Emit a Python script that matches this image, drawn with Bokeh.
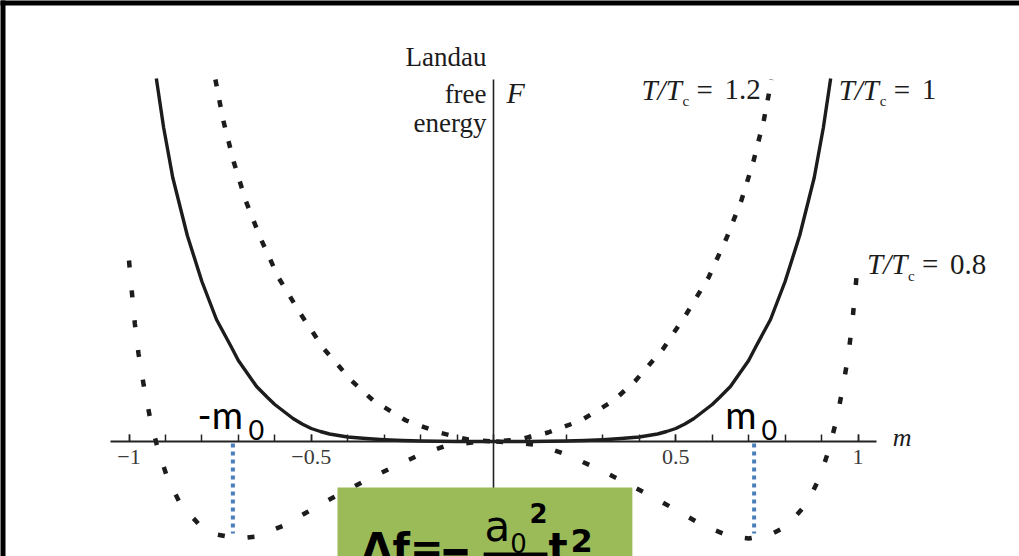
from bokeh.plotting import figure
from bokeh.models import FixedTicker, Label, BoxAnnotation, Range1d
from bokeh.embed import file_html
from bokeh.resources import INLINE

# Landau free energy F(m) (arbitrary units) for three reduced temperatures
m_t10 = [-0.925, -0.905, -0.88, -0.84, -0.80, -0.76, -0.72, -0.70, -0.65, -0.62, -0.60,
         -0.575, -0.55, -0.525, -0.50, -0.475, -0.45, -0.40, -0.35, -0.30, -0.25, -0.20,
         -0.10, 0.0,
         0.10, 0.20, 0.25, 0.30, 0.35, 0.40, 0.45, 0.475, 0.50, 0.525, 0.55, 0.575,
         0.60, 0.62, 0.65, 0.70, 0.72, 0.76, 0.80, 0.84, 0.88, 0.905, 0.925]
F_t10 = [3.63, 3.14, 2.64, 2.06, 1.60, 1.22, 0.95, 0.81, 0.55, 0.44, 0.37,
         0.30, 0.23, 0.175, 0.13, 0.10, 0.075, 0.045, 0.03, 0.018, 0.01, 0.005,
         0.0, 0.0,
         0.0, 0.005, 0.01, 0.018, 0.03, 0.045, 0.075, 0.10, 0.13, 0.175, 0.23, 0.30,
         0.37, 0.44, 0.55, 0.81, 0.95, 1.22, 1.60, 2.06, 2.64, 3.14, 3.63]

m_t12 = [-0.763, -0.742, -0.713, -0.68, -0.64, -0.59, -0.53, -0.466, -0.39, -0.33,
         -0.24, -0.15, -0.07, 0.0,
         0.07, 0.15, 0.24, 0.33, 0.39, 0.466, 0.53, 0.59, 0.64, 0.68, 0.713, 0.742, 0.763]
F_t12 = [3.62, 3.22, 2.80, 2.41, 2.04, 1.64, 1.28, 0.93, 0.61, 0.41,
         0.21, 0.09, 0.02, 0.0,
         0.02, 0.09, 0.21, 0.41, 0.61, 0.93, 1.28, 1.64, 2.04, 2.41, 2.80, 3.22, 3.62]

m_t08 = [-1.0, -0.992, -0.984, -0.974, -0.96, -0.943, -0.922, -0.896, -0.86, -0.803,
         -0.76, -0.70, -0.65, -0.575, -0.513, -0.44, -0.362, -0.284, -0.207, -0.129,
         -0.06, 0.0,
         0.06, 0.129, 0.207, 0.284, 0.362, 0.44, 0.513, 0.575, 0.65, 0.70, 0.76,
         0.803, 0.86, 0.896, 0.922, 0.943, 0.96, 0.974, 0.984, 0.992, 1.0]
F_t08 = [1.81, 1.49, 1.18, 0.88, 0.57, 0.25, -0.06, -0.35, -0.62, -0.85,
         -0.93, -0.97, -0.95, -0.84, -0.71, -0.56, -0.41, -0.27, -0.14, -0.04,
         -0.01, 0.0,
         -0.01, -0.04, -0.14, -0.27, -0.41, -0.56, -0.71, -0.84, -0.95, -0.97, -0.93,
         -0.85, -0.62, -0.35, -0.06, 0.25, 0.57, 0.88, 1.18, 1.49, 1.81]

# equilibrium magnetisation +/- m0 of the T/Tc = 0.8 curve
m0_x = [-0.715, 0.715]
m0_top = [-0.02, -0.02]
m0_bottom = [-0.92, -0.92]

# axis ticks
major_ticks = [-1.0, -0.5, 0.5, 1.0]
major_labels = ["\u22121", "\u22120.5", "0.5", "1"]
minor_ticks = [-1.0, -0.9, -0.8, -0.7, -0.6, -0.5, -0.4, -0.3, -0.2, -0.1, 0.0,
               0.1, 0.2, 0.3, 0.4, 0.5, 0.6, 0.7, 0.8, 0.9, 1.0]

# curve labels: T/Tc value and anchor (m, F)
temp_values = ["1.2", "1", "0.8"]
temp_label_m = [0.406, 0.947, 1.025]
temp_label_F = [3.405, 3.405, 1.66]

SERIF = "Liberation Serif"
INK = "#1c1c1c"

X0, X1 = -1.35254, 1.44307
Y0, Y1 = -1.15, 4.41

p = figure(width=1019, height=556, output_backend="svg", toolbar_location=None,
           x_range=Range1d(X0, X1), y_range=Range1d(Y0, Y1),
           min_border=0, min_border_left=0, min_border_top=0,
           min_border_right=0, min_border_bottom=0,
           border_fill_color="white", background_fill_color="white",
           outline_line_color=None)
p.grid.visible = False

# horizontal m axis through F = 0
xa = p.xaxis[0]
xa.fixed_location = 0
xa.bounds = (-1.05, 1.05)
xa.ticker = FixedTicker(ticks=major_ticks, minor_ticks=minor_ticks)
xa.major_label_overrides = {t: s for t, s in zip(major_ticks, major_labels)}
xa.axis_line_color = "#222222"
xa.axis_line_width = 2
xa.major_tick_in = 7
xa.major_tick_out = 0
xa.minor_tick_in = 7
xa.minor_tick_out = 0
xa.major_tick_line_color = "#222222"
xa.minor_tick_line_color = "#222222"
xa.major_tick_line_width = 1.5
xa.minor_tick_line_width = 1.5
xa.major_label_standoff = 8
xa.major_label_text_font = SERIF
xa.major_label_text_font_size = "22px"
xa.major_label_text_color = "#3a3a3a"

# vertical F axis through m = 0
ya = p.yaxis[0]
ya.fixed_location = 0
ya.bounds = (-1.15, 3.62)
ya.ticker = FixedTicker(ticks=[])
ya.major_tick_in = 0
ya.major_tick_out = 0
ya.minor_tick_in = 0
ya.minor_tick_out = 0
ya.major_label_text_font_size = "0px"
ya.axis_line_color = "#222222"
ya.axis_line_width = 1.6

# free energy curves
p.line(m_t08, F_t08, line_color=INK, line_width=4.5, line_dash="7 23")
p.line(m_t12, F_t12, line_color=INK, line_width=4.5, line_dash="7 14")
p.line(m_t10, F_t10, line_color=INK, line_width=3.4, line_join="round")

# drop lines at +/- m0
p.segment(x0=m0_x, y0=m0_top, x1=m0_x, y1=m0_bottom,
          line_color="#4A7EBB", line_width=4, line_dash="4 4")


def put(x, y, s, size, font=SERIF, style="normal", align="left", dx=0, dy=0,
        color=INK):
    # y is the text baseline; lift by the box descent Bokeh puts below it
    p.add_layout(Label(x=x, y=y, text=s, text_font=font,
                       text_font_size=f"{size}px", text_font_style=style,
                       text_align=align, text_baseline="alphabetic",
                       text_color=color, x_offset=dx, y_offset=dy + 0.38 * size))


# axis titles
put(-0.019, 3.74, "Landau", 27, align="right")
put(-0.019, 3.37, "free", 27, align="right")
put(-0.019, 3.08, "energy", 27, align="right")
put(0.036, 3.38, "F", 30, style="italic")
put(1.095, -0.06, "m", 26, style="italic")

# T/Tc labels
for val, lx, ly in zip(temp_values, temp_label_m, temp_label_F):
    put(lx, ly, "T/T", 29, style="italic")
    put(lx, ly, "c", 15, dx=41, dy=-6)
    put(lx, ly, "=", 29, dx=55)
    put(lx, ly, val, 29, dx=83)

# -m0 and m0 markers
SANS = "Lato"
put(-0.812, 0.13, "-m", 38, font=SANS, color="black")
put(-0.672, 0.01, "0", 27, font=SANS, color="black")
put(0.636, 0.13, "m", 38, font=SANS, color="black")
put(0.735, 0.01, "0", 27, font=SANS, color="black")

# boxed expression for the free energy gain
p.add_layout(BoxAnnotation(left=-0.428, right=0.381, top=-0.46, bottom=-1.5,
                           fill_color="#9BBB59", fill_alpha=1.0, line_color=None))
FORM = "DejaVu Sans"
put(-0.362, -1.22, "\u0394f=", 40, font=FORM, style="bold", color="black")
p.add_layout(BoxAnnotation(left=-0.137, right=-0.071, top=-1.075, bottom=-1.14,
                           fill_color="black", fill_alpha=1.0, line_color=None))
put(-0.025, -1.01, "a", 42, font=FORM, color="black")
put(0.046, -1.11, "0", 26, font=FORM, color="black")
put(0.099, -0.81, "2", 26, font=FORM, style="bold", color="black")
p.add_layout(BoxAnnotation(left=-0.027, right=0.148, top=-1.11, bottom=-1.2,
                           fill_color="black", fill_alpha=1.0, line_color=None))
put(0.151, -1.22, "t", 40, font=FORM, style="bold", color="black")
put(0.211, -1.11, "2", 32, font=FORM, style="bold", color="black")

# black frame strips along the top and left edges
p.add_layout(BoxAnnotation(left=X0 - 0.1, right=X0 + 5 / 364.5, top=Y1 + 0.1,
                           bottom=Y0 - 0.1, fill_color="black", fill_alpha=1.0,
                           line_color=None, level="overlay"))
p.add_layout(BoxAnnotation(left=X0 - 0.1, right=X1 + 0.1, top=Y1 + 0.1,
                           bottom=Y1 - 0.05, fill_color="black", fill_alpha=1.0,
                           line_color=None, level="overlay"))

open("out.html", "w").write(file_html(p, INLINE))
